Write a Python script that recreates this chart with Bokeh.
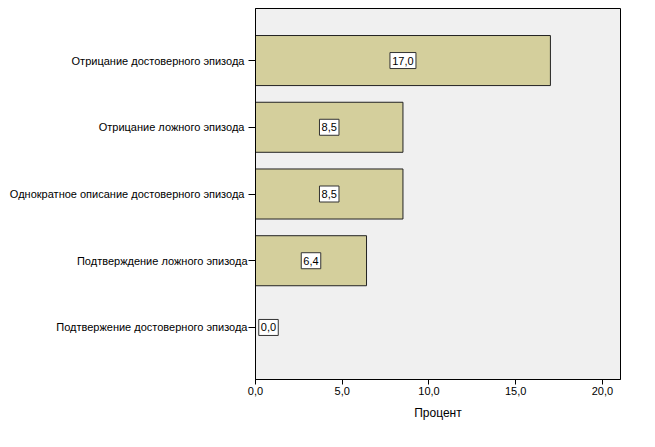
from bokeh.plotting import figure
from bokeh.models import ColumnDataSource, FixedTicker, Range1d
from bokeh.embed import file_html
from bokeh.resources import INLINE

categories = [
    "Отрицание  достоверного эпизода",
    "Отрицание  ложного эпизода",
    "Однократное описание  достоверного эпизода",
    "Подтверждение ложного эпизода",
    "Подтвержение достоверного эпизода",
]
values = [17.0, 8.5, 8.5, 6.4, 0.0]
x_ticks = [0, 5, 10, 15, 20]
x_tick_labels = ["0,0", "5,0", "10,0", "15,0", "20,0"]

n = len(categories)
ypos = [n - i for i in range(n)]
labels = [f"{v:.1f}".replace(".", ",") for v in values]
label_x = [max(v / 2, 0.75) for v in values]
box_w = [6.5 * len(s) for s in labels]

src = ColumnDataSource(dict(y=ypos, v=values, lab=labels, lx=label_x, bw=box_w))

FONT = "Liberation Sans"

p = figure(width=647, height=431, output_backend="svg", toolbar_location=None,
           x_range=Range1d(0, 21.04), y_range=Range1d(0.22, 5.78),
           min_border_left=255, min_border_right=27, min_border_top=8,
           min_border_bottom=52)
p.background_fill_color = "#F0F0F0"
p.border_fill_color = "white"
p.outline_line_color = "black"
p.outline_line_width = 1
p.grid.visible = False

p.hbar(y="y", left=0, right="v", height=0.75, source=src,
       fill_color="#D4CF9C", line_color="#222222", line_width=1)

p.rect(x="lx", y="y", width="bw", height=16, width_units="screen",
       height_units="screen", source=src, fill_color="white",
       line_color="#333333", line_width=1)
p.text(x="lx", y="y", text="lab", source=src, text_align="center",
       text_baseline="middle", text_font={"value": FONT},
       text_font_size={"value": "11px"}, text_color="black")

p.xaxis.ticker = FixedTicker(ticks=x_ticks)
p.xaxis.major_label_overrides = {t: l for t, l in zip(x_ticks, x_tick_labels)}
p.xaxis.axis_label = "Процент"
p.xaxis.axis_label_text_font = FONT
p.xaxis.axis_label_text_font_style = "normal"
p.xaxis.axis_label_text_font_size = "12px"
p.xaxis.axis_label_standoff = 8
p.xaxis.major_label_text_font = FONT
p.xaxis.major_label_text_font_size = "11px"
p.xaxis.major_tick_in = 0
p.xaxis.major_tick_out = 5
p.xaxis.minor_tick_line_color = None
p.xaxis.major_label_standoff = 2

p.yaxis.ticker = FixedTicker(ticks=ypos)
p.yaxis.major_label_overrides = {y: c for y, c in zip(ypos, categories)}
p.yaxis.major_label_text_font = FONT
p.yaxis.major_label_text_font_size = "11px"
p.yaxis.major_tick_in = 0
p.yaxis.major_tick_out = 7
p.yaxis.minor_tick_line_color = None
p.yaxis.major_label_standoff = 1

for ax in (p.xaxis, p.yaxis):
    ax.axis_line_color = "black"
    ax.major_tick_line_color = "black"
    ax.major_label_text_color = "black"
    ax.axis_label_text_color = "black"

open("out.html", "w").write(file_html(p, INLINE))
